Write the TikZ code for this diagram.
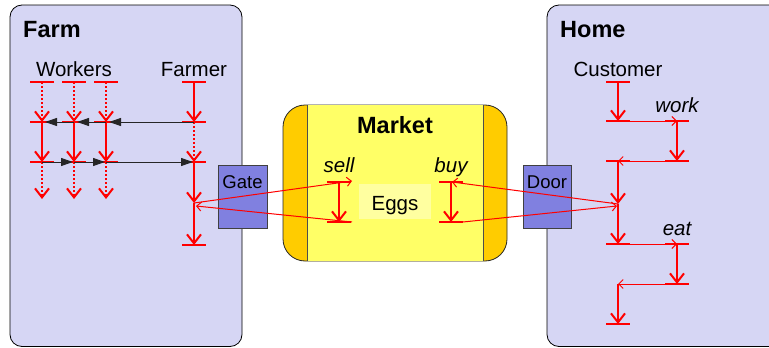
\documentclass[tikz,border=0pt]{standalone}
\usepackage{fontspec}
\setmainfont{Liberation Sans}
\usetikzlibrary{arrows.meta}

\definecolor{zone}{RGB}{214,214,244}
\definecolor{portal}{RGB}{128,128,224}
\definecolor{stall}{RGB}{255,204,0}
\definecolor{stallin}{RGB}{255,255,102}
\definecolor{goods}{RGB}{255,255,160}

\tikzset{
  zonebox/.style={draw=black, line width=0.8pt, fill=zone, rounded corners=12pt},
  portalbox/.style={draw=black!75, line width=0.8pt, fill=portal, inner sep=0pt},
  title/.style={font=\fontsize{23.5}{26}\selectfont\bfseries, anchor=base},
  lbl/.style={font=\fontsize{20.5}{23}\selectfont, anchor=base, inner sep=0pt},
  act/.style={font=\fontsize{20.5}{23}\selectfont\itshape, anchor=base, inner sep=0pt},
  plbl/.style={font=\fontsize{18.5}{21}\selectfont, anchor=base, inner sep=0pt},
  bar/.style={red, line width=2.5pt},
  life/.style={red, line width=2pt, -{Straight Barb[length=9pt,width=14pt]}},
  idle/.style={life, dash pattern=on 2pt off 2pt},
  msg/.style={red, line width=1pt, -{Straight Barb[length=4.5pt,width=9pt]}},
  call/.style={black!85, line width=1pt, -{Triangle[length=12pt,width=8pt]}},
}
% a short horizontal activation tick centred on a named lifeline point
\newcommand\tickat[1]{\draw[bar] ([xshift=-12pt]#1) -- ([xshift=12pt]#1);}

\begin{document}
\begin{tikzpicture}[x=1pt,y=-1pt]
\useasboundingbox (0,0) rectangle (769,348);
\clip (0,0) rectangle (769,348);

% ---- regions ----
\draw[zonebox] (10,5) rectangle (242,346.5);
\draw[zonebox] (547,5) rectangle (800,346.5);
\node[title, anchor=base west, inner sep=0pt] (farm) at (23,37) {Farm};
\node[title, anchor=base west, inner sep=0pt] (home) at (560,37) {Home};

% ---- market stall ----
\draw[fill=stall, draw=black!85, line width=0.8pt, rounded corners=22pt] (283,105) rectangle (507,261);
\fill[stallin] (307,105.4) rectangle (483,260.6);
\draw[black!70, line width=0.8pt] (307,105) -- (307,261) (483,105) -- (483,261);
\node[title, inner sep=0pt] (market) at (395,133) {Market};
\node[fill=goods, minimum width=72pt, minimum height=35pt, inner sep=0pt] (eggbox) at (395,201.5) {};
\node[lbl] (eggs) at (395,210) {Eggs};
\node[act] (sell) at (339,172) {sell};
\node[act] (buy) at (451,172) {buy};

% ---- gate and door ----
\node[portalbox, minimum width=49pt, minimum height=63pt] (gate) at (242.5,196.5) {};
\node[plbl] (gatelbl) at (242.5,188) {Gate};
\node[portalbox, minimum width=48pt, minimum height=63pt] (door) at (547,196.5) {};
\node[plbl] (doorlbl) at (547,188) {Door};

% ---- farm lifelines ----
\node[lbl] (workers) at (74,76) {Workers};
\node[lbl] (farmer) at (194,76) {Farmer};
\foreach \i/\x in {1/42,2/74,3/106}{
  \coordinate (wa\i) at (\x,82);
  \coordinate (wb\i) at (\x,122);
  \coordinate (wc\i) at (\x,162);
  \coordinate (wd\i) at (\x,199);
}
\coordinate (fa) at (194,82);
\coordinate (fb) at (194,122);
\coordinate (fc) at (194,162);
\coordinate (fm) at (194,203);
\coordinate (fmr) at (196,206);
\coordinate (fe) at (194,245);

\foreach \i in {1,2,3}{
  \draw[idle] (wa\i) -- (wb\i);
  \draw[life] (wb\i) -- (wc\i);
  \draw[idle] (wc\i) -- (wd\i);
  \tickat{wa\i} \tickat{wb\i} \tickat{wc\i}
}
\draw[life] (fa) -- (fb);
\draw[idle] (fb) -- (fc);
\draw[life] (fc) -- (fm);
\draw[life] (fm) -- (fe);
\tickat{fa} \tickat{fb} \tickat{fc} \tickat{fe}

% hand-offs between farmer and workers
\draw[call, shorten >=3pt] (fb) -- (wb3);
\draw[call, shorten >=3pt] (wb3) -- (wb2);
\draw[call, shorten >=3pt] (wb2) -- (wb1);
\draw[call, shorten >=1pt] (wc1) -- (wc2);
\draw[call, shorten >=1pt] (wc2) -- (wc3);
\draw[call, shorten >=1pt] (wc3) -- (fc);

% ---- market lifelines ----
\coordinate (sa) at (339,182);
\coordinate (sb) at (339,222);
\coordinate (sat) at (352,181);
\coordinate (sbt) at (352,222);
\coordinate (ba) at (451,182);
\coordinate (bb) at (451,222);
\coordinate (bat) at (452,182);
\coordinate (bbt) at (463,222);
\draw[life] (sa) -- (sb);
\draw[life] (ba) -- (bb);
\tickat{sa} \tickat{sb} \tickat{ba} \tickat{bb}

% ---- home lifelines ----
\node[lbl] (customer) at (618,76) {Customer};
\node[act] (work) at (677,112) {work};
\node[act] (eat) at (677,235) {eat};
\coordinate (ca) at (618,82);
\coordinate (cb) at (618,121);
\coordinate (cc) at (618,161);
\coordinate (cm) at (618,204);
\coordinate (cmr) at (617,206);
\coordinate (cd) at (618,244);
\coordinate (ce) at (618,284);
\coordinate (cf) at (618,324);
\coordinate (ka) at (677,121);
\coordinate (kb) at (677,161);
\coordinate (ea) at (677,244);
\coordinate (eb) at (677,284);

\draw[msg] (cb) -- (ka);
\draw[msg] (kb) -- (cc);
\draw[msg] (cd) -- (ea);
\draw[msg] (eb) -- (ce);
\draw[life] (ca) -- (cb);
\draw[life] (ka) -- (kb);
\draw[life] (cc) -- (cm);
\draw[life] (cm) -- (cd);
\draw[life] (ea) -- (eb);
\draw[life] (ce) -- (cf);
\tickat{ca} \tickat{cb} \tickat{cc} \tickat{cd} \tickat{cf}
\tickat{ka} \tickat{kb} \tickat{ea} \tickat{eb}

% ---- trade messages ----
\draw[msg] (fm) -- (sat);
\draw[msg] (sbt) -- (fmr);
\draw[msg] (cm) -- (bat);
\draw[msg] (bbt) -- (cmr);
\end{tikzpicture}
\end{document}
